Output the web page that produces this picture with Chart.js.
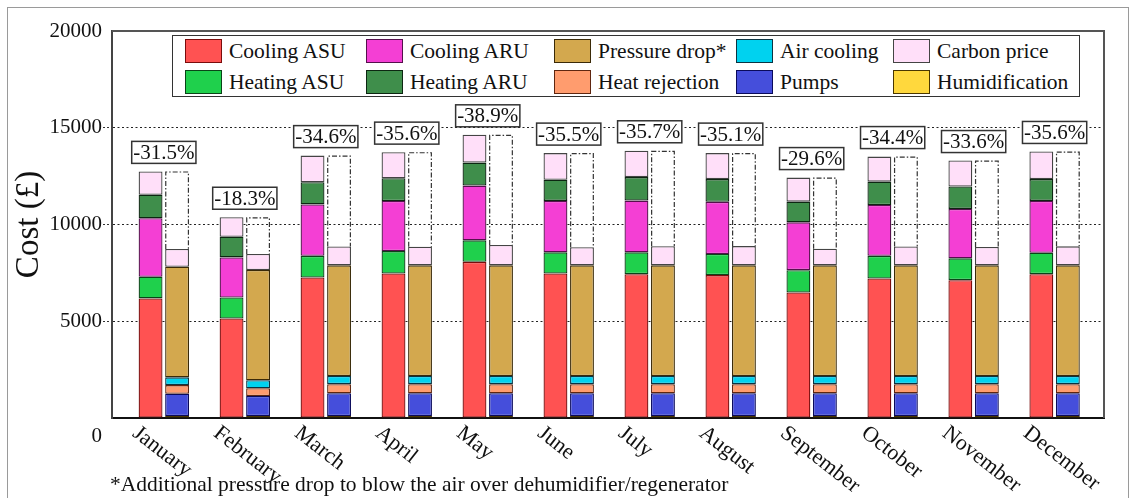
<!DOCTYPE html>
<html>
<head>
<meta charset="utf-8">
<script src="https://cdn.jsdelivr.net/npm/chart.js@4.4.1/dist/chart.umd.min.js"></script>
<style>
  html, body { margin: 0; padding: 0; background: #fff; }
  body { width: 1136px; height: 498px; overflow: hidden; position: relative;
         font-family: 'Liberation Serif', 'Times New Roman', serif; color: #111; }
  #frame { position: absolute; left: 7px; top: 7px; width: 1120px; height: 540px; border: 1.5px solid #9a9a9a; }
  #chart { position: absolute; left: 0; top: 0; }
  #legend { position: absolute; left: 172px; top: 35px; width: 906px; height: 60px;
            border: 1.5px solid #333; background: #fff; }
  .item { position: absolute; display: flex; align-items: center; font-size: 21.5px; white-space: nowrap; height: 24px; }
  .swatch { width: 37px; height: 24px; border: 1.5px solid; margin-right: 7px; box-sizing: border-box; }
  #note { position: absolute; left: 110px; top: 472px; font-size: 21.5px; white-space: nowrap; }
</style>
</head>
<body>
<div id="frame"></div>
<canvas id="chart" width="1136" height="498"></canvas>
<div id="legend"></div>
<div id="note">*Additional pressure drop to blow the air over dehumidifier/regenerator</div>
<script>
const SERIF = "'Liberation Serif', 'Times New Roman', serif";

const months = ['January', 'February', 'March', 'April', 'May', 'June',
                'July', 'August', 'September', 'October', 'November', 'December'];

// conventional system (left bar of each month)
const coolingASU = [6180, 5140, 7260, 7470, 8070, 7470, 7435, 7385, 6485, 7210, 7125, 7435];
const heatingASU = [1120, 1090, 1120, 1155, 1110, 1090, 1125, 1090, 1155, 1170, 1125, 1105];
const coolingARU = [3025, 2070, 2660, 2590, 2830, 2660, 2675, 2695, 2470, 2630, 2555, 2680];
const heatingARU = [1210, 1070, 1140, 1175, 1190, 1090, 1215, 1175, 1070, 1205, 1155, 1125];
const carbonOld  = [1210, 1005, 1380, 1350, 1435, 1380, 1360, 1345, 1245, 1295, 1345, 1430];

// desiccant system (right bar of each month)
const humidification = [100, 100, 100, 100, 100, 100, 100, 100, 100, 100, 100, 100];
const pumps          = [1150, 1040, 1180, 1180, 1180, 1180, 1180, 1180, 1180, 1180, 1180, 1180];
const heatRejection  = [450, 400, 470, 470, 470, 470, 470, 470, 470, 470, 470, 470];
const airCooling     = [400, 410, 420, 420, 420, 420, 420, 420, 420, 420, 420, 420];
const pressureDrop   = [5720, 5700, 5720, 5720, 5720, 5720, 5720, 5720, 5720, 5720, 5720, 5720];
const carbonNew      = [910, 826, 978, 959, 1052, 940, 990, 995, 857, 973, 945, 981];

const yTicks = [0, 5000, 10000, 15000, 20000];

const sum = arrs => months.map((m, i) => arrs.reduce((s, a) => s + a[i], 0));
const oldTotal = sum([coolingASU, heatingASU, coolingARU, heatingARU, carbonOld]);
const newTotal = sum([humidification, pumps, heatRejection, airCooling, pressureDrop, carbonNew]);
const saved = months.map((m, i) => oldTotal[i] - newTotal[i]);

const pts = arr => arr.map((v, i) => ({ x: i, y: v }));

function series(label, data, fill, edge, stack) {
  return { label, data: pts(data), backgroundColor: fill, borderColor: edge,
           borderWidth: 1.3, borderSkipped: false, stack };
}

const datasets = [
  series('Cooling ASU', coolingASU, '#ff5252', '#7a0c0c', 'old'),
  series('Heating ASU', heatingASU, '#1fd04c', '#0a4418', 'old'),
  series('Cooling ARU', coolingARU, '#f43fd4', '#55104c', 'old'),
  series('Heating ARU', heatingARU, '#3f8e4b', '#0d2612', 'old'),
  series('Carbon price', carbonOld, '#ffdff9', '#444444', 'old'),
  series('Humidification', humidification, '#ffd83d', '#4a3600', 'new'),
  series('Pumps', pumps, '#454edb', '#0a0a5a', 'new'),
  series('Heat rejection', heatRejection, '#ff9c6e', '#5e2610', 'new'),
  series('Air cooling', airCooling, '#00d2ef', '#0a3442', 'new'),
  series('Pressure drop*', pressureDrop, '#d3a84e', '#3a2a08', 'new'),
  series('Carbon price', carbonNew, '#ffdff9', '#444444', 'new'),
  { label: 'saving', data: pts(saved), backgroundColor: 'rgba(0,0,0,0)', borderWidth: 0, stack: 'new' }
];
const OLD_TOP = 4, SAVING = 11;

// legend laid out in two rows, five columns
const legendCols = [
  [['Cooling ASU', 0], ['Heating ASU', 1]],
  [['Cooling ARU', 2], ['Heating ARU', 3]],
  [['Pressure drop*', 9], ['Heat rejection', 7]],
  [['Air cooling', 8], ['Pumps', 6]],
  [['Carbon price', 4], ['Humidification', 5]]
];
const colLeft = [12, 193, 381, 563, 720];
const legend = document.getElementById('legend');
legendCols.forEach((col, c) => col.forEach(([name, di], r) => {
  const it = document.createElement('div');
  it.className = 'item';
  it.style.left = colLeft[c] + 'px';
  it.style.top = (3 + r * 31) + 'px';
  const sw = document.createElement('span');
  sw.className = 'swatch';
  sw.style.background = datasets[di].backgroundColor;
  sw.style.borderColor = datasets[di].borderColor;
  it.appendChild(sw);
  it.appendChild(document.createTextNode(name));
  legend.appendChild(it);
}));

const decorations = {
  id: 'decorations',
  afterDatasetsDraw(chart) {
    const { ctx, scales: { x } } = chart;
    ctx.save();
    // dash-dot box from the new total up to the old total
    ctx.strokeStyle = '#333';
    ctx.lineWidth = 1.2;
    ctx.setLineDash([5, 2, 1.5, 2]);
    chart.getDatasetMeta(SAVING).data.forEach(el => {
      const { x: cx, y, base, width } = el.getProps(['x', 'y', 'base', 'width'], true);
      const l = cx - width / 2 + 0.6, r = cx + width / 2 - 0.6;
      ctx.beginPath();
      ctx.moveTo(l, base);
      ctx.lineTo(l, y + 0.6);
      ctx.lineTo(r, y + 0.6);
      ctx.lineTo(r, base);
      ctx.stroke();
    });
    ctx.setLineDash([]);

    // percentage change boxes above each month
    const tops = chart.getDatasetMeta(OLD_TOP).data;
    ctx.font = '21px ' + SERIF;
    ctx.textAlign = 'center';
    ctx.textBaseline = 'middle';
    months.forEach((m, i) => {
      const pct = ((newTotal[i] - oldTotal[i]) / oldTotal[i] * 100).toFixed(1) + '%';
      const cx = x.getPixelForValue(i);
      const w = ctx.measureText(pct).width + 3, h = 22;
      const bx = cx - w / 2, by = tops[i].y - 8 - h;
      ctx.fillStyle = '#fff';
      ctx.fillRect(bx, by, w, h);
      ctx.strokeStyle = '#333';
      ctx.lineWidth = 1.5;
      ctx.strokeRect(bx, by, w, h);
      ctx.fillStyle = '#111';
      ctx.fillText(pct, cx, by + h / 2 + 1);
    });
    ctx.restore();
  },
  afterDraw(chart) {
    const { ctx, chartArea: a, scales: { x, y } } = chart;
    ctx.save();
    // top and right sides of the plot frame
    ctx.strokeStyle = '#555';
    ctx.lineWidth = 2;
    ctx.beginPath();
    ctx.moveTo(a.left, a.top);
    ctx.lineTo(a.right, a.top);
    ctx.lineTo(a.right, a.bottom);
    ctx.stroke();

    // slanted month names
    ctx.fillStyle = '#111';
    ctx.font = '22px ' + SERIF;
    ctx.textAlign = 'left';
    ctx.textBaseline = 'top';
    months.forEach((m, i) => {
      ctx.save();
      ctx.translate(x.getPixelForValue(i) - 22, a.bottom + 4);
      ctx.rotate(38 * Math.PI / 180);
      ctx.fillText(m, 0, 0);
      ctx.restore();
    });

    // zero label sits below the axis
    ctx.font = '21px ' + SERIF;
    ctx.textAlign = 'right';
    ctx.textBaseline = 'middle';
    ctx.fillText(String(yTicks[0]), a.left - 10, y.getPixelForValue(0) + 18);
    ctx.restore();
  }
};

const hidden = 'rgba(0,0,0,0)';
const edgeTick = c => c.tick && (c.tick.value === yTicks[0] || c.tick.value === yTicks[yTicks.length - 1]);

new Chart(document.getElementById('chart'), {
  type: 'bar',
  data: { datasets },
  plugins: [decorations],
  options: {
    responsive: false,
    animation: false,
    layout: { padding: { top: 31, right: 32, bottom: 80, left: 0 } },
    datasets: { bar: { categoryPercentage: 0.655, barPercentage: 0.9 } },
    plugins: { legend: { display: false }, tooltip: { enabled: false } },
    scales: {
      x: {
        type: 'linear', stacked: true, min: -0.64, max: 11.61, offset: false,
        ticks: { display: false, stepSize: 1, includeBounds: false },
        grid: { display: false, drawTicks: false },
        border: { display: true, color: '#111', width: 2 },
        afterFit: s => { s.height = 0; }
      },
      y: {
        stacked: true, min: yTicks[0], max: yTicks[yTicks.length - 1],
        afterBuildTicks: s => { s.ticks = yTicks.map(v => ({ value: v })); },
        ticks: {
          color: '#111', padding: 1,
          font: { family: SERIF, size: 21 },
          callback: v => v === 0 ? '' : String(v)
        },
        grid: {
          color: c => edgeTick(c) ? hidden : '#222',
          lineWidth: 1, tickLength: 9,
          tickColor: c => edgeTick(c) ? hidden : '#333',
          tickBorderDash: [2, 2]
        },
        border: { display: true, color: '#444', width: 2, dash: [2, 2.5] },
        title: {
          display: true, text: 'Cost (£)', color: '#111',
          font: { family: SERIF, size: 33 }, padding: { top: 10, bottom: 0 }
        },
        afterFit: s => { s.width = 112; }
      }
    }
  }
});
</script>
</body>
</html>
